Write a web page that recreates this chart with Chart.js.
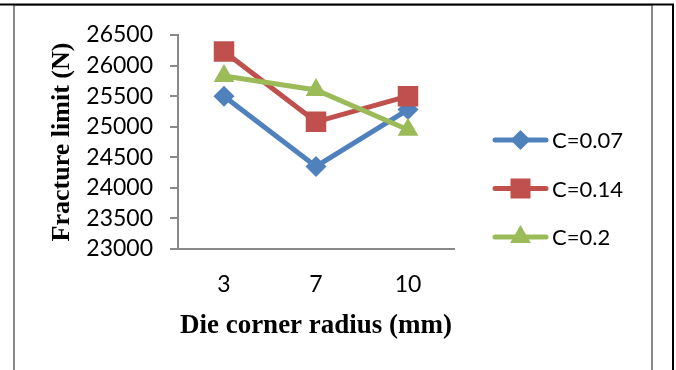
<!DOCTYPE html>
<html>
<head>
<meta charset="utf-8">
<script src="https://cdn.jsdelivr.net/npm/chart.js@4.4.0/dist/chart.umd.min.js"></script>
<style>
  html, body { margin:0; padding:0; background:#fff; }
  #wrap { width:676px; height:370px; position:relative; }
</style>
</head>
<body>
<div id="wrap"><canvas id="c" width="676" height="370"></canvas></div>
<script>
const radius = ['3', '7', '10'];
const c007 = [25500, 24350, 25280];
const c014 = [26230, 25080, 25500];
const c020 = [25830, 25600, 24950];
const yMin = 23000, yMax = 26500, yStep = 500;

const BLUE = '#4F81BD', RED = '#C0504D', GREEN = '#9BBB59', AXIS = '#898989';

// legend sample: line with the marker in the middle
function drawMarker(g, style, cx, cy){
  g.beginPath();
  if (style === 'rectRot'){ g.moveTo(cx-10,cy); g.lineTo(cx,cy-10); g.lineTo(cx+10,cy); g.lineTo(cx,cy+10); }
  else if (style === 'rect'){ g.rect(cx-10, cy-10, 20, 20); }
  else { g.moveTo(cx, cy-12); g.lineTo(cx+10.4, cy+6); g.lineTo(cx-10.4, cy+6); }
  g.closePath(); g.fill();
}

const frame = {
  id:'frame',
  beforeDraw(chart){
    const ctx = chart.ctx;
    ctx.save();
    ctx.fillStyle = '#fff'; ctx.fillRect(0,0,676,370);
    ctx.strokeStyle = '#a0a0a0'; ctx.lineWidth = 1;
    ctx.beginPath(); ctx.moveTo(13, 5.5); ctx.lineTo(653, 5.5); ctx.stroke();
    ctx.strokeStyle = AXIS; ctx.lineWidth = 2;
    ctx.beginPath(); ctx.moveTo(14, 5); ctx.lineTo(14, 370); ctx.moveTo(652, 5); ctx.lineTo(652, 370); ctx.stroke();
    ctx.strokeStyle = '#000'; ctx.lineWidth = 2;
    ctx.beginPath(); ctx.moveTo(0, 4.5); ctx.lineTo(674, 4.5); ctx.moveTo(673, 4); ctx.lineTo(673, 370); ctx.stroke();
    ctx.restore();
  }
};

// legend drawn at the right, like the Excel one
const sideLegend = {
  id:'sideLegend',
  afterDraw(chart){
    const ctx = chart.ctx;
    ctx.save();
    chart.data.datasets.forEach((d, i) => {
      const y = 140 + i * 48.5;
      ctx.strokeStyle = d.borderColor; ctx.fillStyle = d.borderColor;
      ctx.lineWidth = 5; ctx.lineCap = 'round';
      ctx.beginPath(); ctx.moveTo(495, y); ctx.lineTo(546, y); ctx.stroke();
      drawMarker(ctx, d.pointStyle, 520.5, y);
      ctx.fillStyle = '#000';
      ctx.font = '22px Lato';
      ctx.textAlign = 'left'; ctx.textBaseline = 'middle';
      ctx.fillText(d.label, 552, y + 1);
    });
    ctx.restore();
  }
};

function ds(label, data, color, style, order, r){
  return { label, data, borderColor:color, backgroundColor:color, borderWidth:5,
    pointStyle:style, pointRadius:r, pointHoverRadius:r, pointBorderWidth:0,
    pointBackgroundColor:color, tension:0, order };
}

new Chart(document.getElementById('c'), {
  type:'line',
  data:{
    labels: radius,
    datasets:[
      ds('C=0.07', c007, BLUE, 'rectRot', 2, 10.5),
      ds('C=0.14', c014, RED, 'rect', 1, 14.5),
      ds('C=0.2', c020, GREEN, 'triangle', 0, 12)
    ]
  },
  options:{
    responsive:false, animation:false,
    layout:{ padding:{ left:47, right:222, top:35, bottom:0 } },
    plugins:{ tooltip:{ enabled:false }, legend:{ display:false } },
    scales:{
      x:{
        offset:true,
        grid:{ display:false, drawTicks:false },
        border:{ display:true, color:AXIS, width:2 },
        ticks:{ font:{ family:'Lato', size:23 }, color:'#000', padding:22 },
        title:{ display:true, text:'Die corner radius (mm)', color:'#000',
          font:{ family:'Liberation Serif', size:27, weight:'bold' }, padding:{ top:0, bottom:28 } },
        afterFit(s){ s.height = 121; }
      },
      y:{
        min:yMin, max:yMax,
        grid:{ drawOnChartArea:false, drawTicks:true, tickLength:8, color:AXIS, lineWidth:2 },
        border:{ display:true, color:AXIS, width:2 },
        ticks:{ stepSize:yStep, autoSkip:false, font:{ family:'Lato', size:23 }, color:'#000', padding:17,
          callback:(v)=>String(v) },
        title:{ display:true, text:'Fracture limit (N)', color:'#000',
          font:{ family:'Liberation Serif', size:26, weight:'bold' }, padding:{ top:0, bottom:11 } },
        afterFit(s){ s.width = 131; }
      }
    }
  },
  plugins:[frame, sideLegend]
});
</script>
</body>
</html>
